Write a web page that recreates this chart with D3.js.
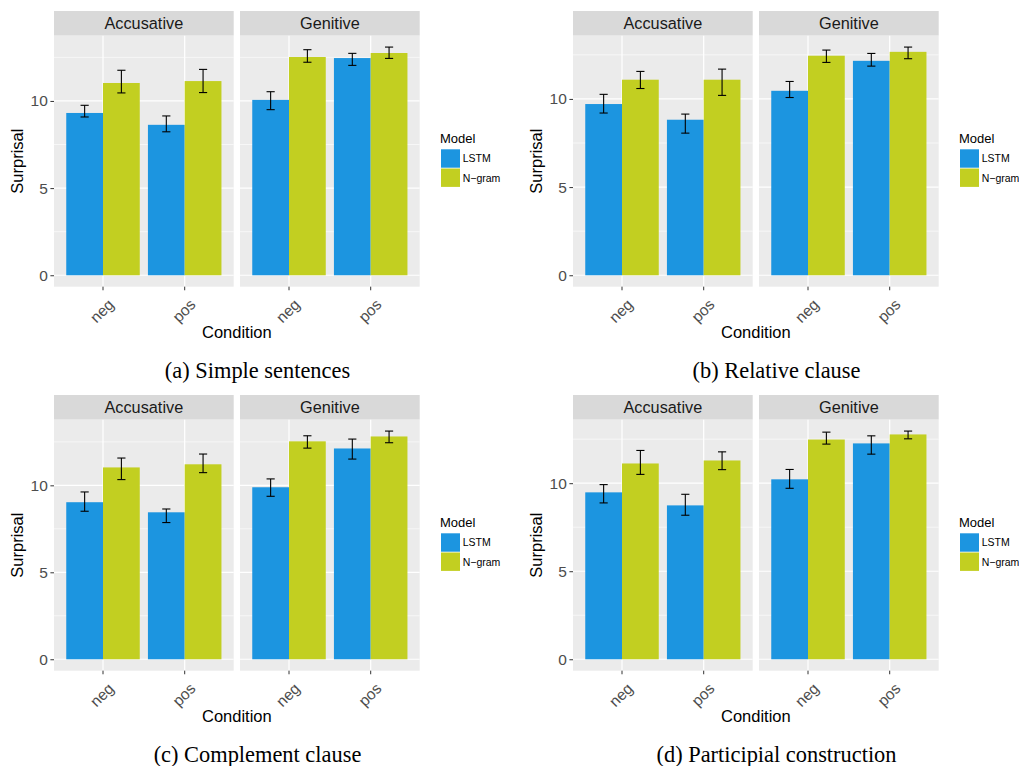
<!DOCTYPE html>
<html>
<head>
<meta charset="utf-8">
<script src="https://cdn.jsdelivr.net/npm/d3@7"></script>
<style>
  html, body { margin: 0; padding: 0; background: #ffffff; }
  svg { display: block; }
</style>
</head>
<body>
<script>
// ---------------- DATA ----------------
const facets = ["Accusative", "Genitive"];
const conditions = ["neg", "pos"];
const models = ["LSTM", "N-gram"];
const modelLabels = ["LSTM", "N\u2212gram"];
const yTicks = [0, 5, 10];
const yMinorTicks = [2.5, 7.5, 12.5];
const captions = ["(a) Simple sentences", "(b) Relative clause", "(c) Complement clause", "(d) Participial construction"];

// values per facet: [neg LSTM, neg N-gram, pos LSTM, pos N-gram]
const simpleMean = [[9.31, 11.03, 8.63, 11.14], [10.06, 12.52, 12.46, 12.75]];
const simpleLo   = [[9.08, 10.46, 8.23, 10.48], [9.50, 12.22, 12.04, 12.44]];
const simpleHi   = [[9.75, 11.76, 9.14, 11.81], [10.53, 12.94, 12.73, 13.09]];

const relativeMean = [[9.71, 11.09, 8.82, 11.09], [10.46, 12.45, 12.16, 12.67]];
const relativeLo   = [[9.20, 10.59, 8.06, 10.20], [10.08, 12.07, 11.86, 12.28]];
const relativeHi   = [[10.26, 11.56, 9.14, 11.69], [10.99, 12.77, 12.58, 12.94]];

const complementMean = [[9.03, 11.03, 8.45, 11.21], [9.89, 12.53, 12.12, 12.81]];
const complementLo   = [[8.51, 10.33, 7.86, 10.73], [9.37, 12.14, 11.51, 12.45]];
const complementHi   = [[9.62, 11.57, 8.64, 11.80], [10.37, 12.85, 12.66, 13.12]];

const participialMean = [[9.48, 11.12, 8.74, 11.29], [10.22, 12.48, 12.26, 12.77]];
const participialLo   = [[8.88, 10.50, 8.18, 10.77], [9.71, 12.22, 11.65, 12.52]];
const participialHi   = [[9.92, 11.86, 9.37, 11.78], [10.78, 12.90, 12.69, 12.96]];

const panelMeans = [simpleMean, relativeMean, complementMean, participialMean];
const panelLos = [simpleLo, relativeLo, complementLo, participialLo];
const panelHis = [simpleHi, relativeHi, complementHi, participialHi];

// ---------------- STYLE / LAYOUT ----------------
const colors = {"LSTM": "#1c95e0", "N-gram": "#c2cf21"};
const offsets = [[0, 0], [519, 0], [0, 384], [519, 384]];
const stripTop = 11, stripBot = 35.67, panelBot = 286.67;
const facetRanges = [[54, 233.7], [240, 419.7]];
const sansFont = "'Liberation Sans', Arial, Helvetica, sans-serif";
const serifFont = "'Liberation Serif', 'Times New Roman', serif";

const svg = d3.select("body").append("svg")
  .attr("width", 1019).attr("height", 766)
  .style("font-family", sansFont);

panelMeans.forEach((means, p) => {
  const [ox, oy] = offsets[p];
  const g = svg.append("g").attr("transform", `translate(${ox},${oy})`);
  const los = panelLos[p], his = panelHis[p];
  const maxV = d3.max(his.flat());
  const y = d3.scaleLinear().domain([-0.05 * maxV, 1.05 * maxV]).range([panelBot, stripBot]);

  facets.forEach((facet, f) => {
    const x = d3.scaleBand().domain(conditions).range(facetRanges[f])
      .paddingInner(0.1).paddingOuter(0.15);
    const xm = d3.scaleBand().domain(models).range([0, x.bandwidth()]);
    const [fx0, fx1] = facetRanges[f];

    // strip
    g.append("rect").attr("x", fx0).attr("y", stripTop)
      .attr("width", fx1 - fx0).attr("height", stripBot - stripTop).attr("fill", "#d9d9d9");
    g.append("text").attr("x", (fx0 + fx1) / 2).attr("y", 29.3)
      .attr("text-anchor", "middle").attr("font-size", 16.3).attr("fill", "#1a1a1a")
      .text(facet);

    // panel background
    g.append("rect").attr("x", fx0).attr("y", stripBot)
      .attr("width", fx1 - fx0).attr("height", panelBot - stripBot).attr("fill", "#ebebeb");

    // gridlines
    g.selectAll(null).data(yMinorTicks.filter(v => v < y.domain()[1])).join("line")
      .attr("x1", fx0).attr("x2", fx1).attr("y1", d => y(d)).attr("y2", d => y(d))
      .attr("stroke", "#ffffff").attr("stroke-width", 0.6);
    g.selectAll(null).data(yTicks).join("line")
      .attr("x1", fx0).attr("x2", fx1).attr("y1", d => y(d)).attr("y2", d => y(d))
      .attr("stroke", "#ffffff").attr("stroke-width", 1.2);
    g.selectAll(null).data(conditions).join("line")
      .attr("x1", d => x(d) + x.bandwidth() / 2).attr("x2", d => x(d) + x.bandwidth() / 2)
      .attr("y1", stripBot).attr("y2", panelBot)
      .attr("stroke", "#ffffff").attr("stroke-width", 1.2);

    // bars
    const rows = [];
    conditions.forEach((c, ci) => models.forEach((m, mi) => {
      const k = ci * 2 + mi;
      rows.push({c, m, v: means[f][k], lo: los[f][k], hi: his[f][k]});
    }));
    g.selectAll(null).data(rows).join("rect")
      .attr("x", d => x(d.c) + xm(d.m))
      .attr("width", xm.bandwidth())
      .attr("y", d => y(d.v))
      .attr("height", d => y(0) - y(d.v))
      .attr("fill", d => colors[d.m]);

    // error bars
    const capHalf = x.step() * 0.05;
    const eb = g.selectAll(null).data(rows).join("g")
      .attr("transform", d => `translate(${x(d.c) + xm(d.m) + xm.bandwidth() / 2},0)`);
    eb.append("line").attr("x1", 0).attr("x2", 0)
      .attr("y1", d => y(d.lo)).attr("y2", d => y(d.hi))
      .attr("stroke", "#000").attr("stroke-width", 1.1);
    eb.append("line").attr("x1", -capHalf).attr("x2", capHalf)
      .attr("y1", d => y(d.lo)).attr("y2", d => y(d.lo))
      .attr("stroke", "#000").attr("stroke-width", 1.1);
    eb.append("line").attr("x1", -capHalf).attr("x2", capHalf)
      .attr("y1", d => y(d.hi)).attr("y2", d => y(d.hi))
      .attr("stroke", "#000").attr("stroke-width", 1.1);

    // x axis
    const xAxis = d3.axisBottom(x).tickSize(3.6).tickPadding(0);
    const xg = g.append("g").attr("transform", `translate(0,${panelBot})`).call(xAxis);
    xg.select(".domain").remove();
    xg.selectAll(".tick line").attr("stroke", "#333333").attr("stroke-width", 1);
    xg.selectAll(".tick text")
      .attr("font-family", sansFont).attr("font-size", 15.5).attr("fill", "#4d4d4d")
      .attr("text-anchor", "end")
      .attr("y", 0).attr("dy", "0.72em")
      .attr("transform", "translate(4,11) rotate(-45)");

    // y axis on first facet
    if (f === 0) {
      const yAxis = d3.axisLeft(y).tickValues(yTicks).tickSize(3.6).tickPadding(2.6);
      const yg = g.append("g").attr("transform", `translate(${fx0},0)`).call(yAxis);
      yg.select(".domain").remove();
      yg.selectAll(".tick line").attr("stroke", "#333333").attr("stroke-width", 1);
      yg.selectAll(".tick text")
        .attr("font-family", sansFont).attr("font-size", 15.5).attr("fill", "#4d4d4d");
    }
  });

  // axis titles
  g.append("text")
    .attr("transform", `translate(23,${(stripBot + panelBot) / 2}) rotate(-90)`)
    .attr("text-anchor", "middle").attr("font-size", 16.5).attr("fill", "#000")
    .text("Surprisal");
  g.append("text")
    .attr("x", (facetRanges[0][0] + facetRanges[1][1]) / 2).attr("y", 338)
    .attr("text-anchor", "middle").attr("font-size", 16.5).attr("fill", "#000")
    .text("Condition");

  // legend
  const lg = g.append("g").attr("transform", "translate(440,0)");
  lg.append("text").attr("x", 0).attr("y", 142.5).attr("font-size", 13).attr("fill", "#000").text("Model");
  models.forEach((m, i) => {
    lg.append("rect").attr("x", 1).attr("y", 149.3 + i * 19.2)
      .attr("width", 19).attr("height", 18.4).attr("fill", colors[m]);
    lg.append("text").attr("x", 22.7).attr("y", 149.3 + i * 19.2 + 9.5).attr("dy", "0.35em")
      .attr("font-size", 10.5).attr("fill", "#000").text(modelLabels[i]);
  });

  // caption
  g.append("text").attr("x", 257.5).attr("y", 378)
    .attr("text-anchor", "middle").attr("font-family", serifFont)
    .attr("font-size", 22.4).attr("fill", "#000").text(captions[p]);
});
</script>
</body>
</html>
